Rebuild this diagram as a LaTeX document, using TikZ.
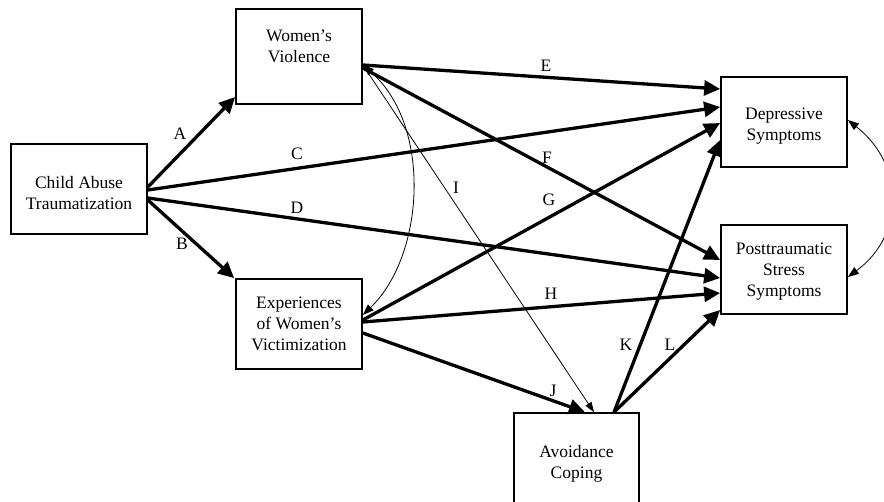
\documentclass[tikz,border=0pt]{standalone}
\usepackage{fontspec}
\setmainfont{Liberation Serif}
\usetikzlibrary{arrows.meta}
\begin{document}
\begin{tikzpicture}[x=1pt,y=-1pt,
  box/.style={draw,line width=1.7pt,inner sep=0pt},
  txt/.style={align=center,inner sep=0pt,font=\fontsize{17.5}{21}\selectfont},
  lab/.style={inner sep=0pt,font=\fontsize{17.5}{21}\selectfont},
  thick arrow/.style={line width=3.3pt,-{Triangle[length=16pt,width=15pt]}},
  thin arrow/.style={line width=0.8pt,-{Triangle[length=10pt,width=7pt]}},
  thin double/.style={line width=0.8pt,{Triangle[length=11pt,width=8pt]}-{Triangle[length=11pt,width=8pt]}}]
\useasboundingbox (0,0) rectangle (884,501);
\clip (0,0) rectangle (884,501);
% boxes
\node[box,minimum width=136pt,minimum height=90pt] (ca) at (79,189) {};
\node[txt] (catext) at (79,193) {Child Abuse\\Traumatization};
\node[box,minimum width=126pt,minimum height=95pt] (wv) at (299,56.5) {};
\node[txt] (wvtext) at (299,46) {Women’s\\Violence};
\node[box,minimum width=126pt,minimum height=90pt] (ex) at (299,324) {};
\node[txt] (extext) at (299,324) {Experiences\\of Women’s\\Victimization};
\node[box,minimum width=126pt,minimum height=90pt] (dp) at (784,122) {};
\node[txt] (dptext) at (784,126) {Depressive\\Symptoms};
\node[box,minimum width=126pt,minimum height=89pt] (pt) at (784,269.5) {};
\node[txt] (pttext) at (784,272) {Posttraumatic\\Stress\\Symptoms};
\node[box,minimum width=125pt,minimum height=97pt] (av) at (576.5,461.5) {};
\node[txt] (avtext) at (576.5,463.5) {Avoidance\\Coping};
% connectors
\draw[thick arrow] ([yshift=2pt]ca.east) -- ([yshift=-40.5pt]wv.west);
\draw[thick arrow] ([yshift=-11pt]ca.east) -- ([xshift=-1pt]ex.north west);
\draw[thick arrow] ([yshift=-1pt]ca.east) -- ([yshift=15pt]dp.west);
\draw[thick arrow] ([yshift=-9pt]ca.east) -- ([yshift=-8.5pt]pt.west);
\draw[thick arrow] ([yshift=-8.5pt]wv.east) -- ([yshift=33pt]dp.west);
\draw[thick arrow] ([yshift=-11.5pt]wv.east) -- ([yshift=9.5pt]pt.west);
\draw[thick arrow] ([yshift=4pt]ex.east) -- ([yshift=-1pt]dp.west);
\draw[thick arrow] ([yshift=2pt]ex.east) -- ([yshift=-23.5pt]pt.west);
\draw[thick arrow] ([yshift=-9pt]ex.east) -- ([xshift=8.5pt]av.north);
\draw[thin arrow] ([yshift=-8.5pt]wv.east) -- ([xshift=17.5pt]av.north);
\draw[thick arrow] ([xshift=37.5pt]av.north) -- ([yshift=-18pt]dp.west);
\draw[thick arrow] ([xshift=37.5pt]av.north) -- ([yshift=-40.5pt]pt.west);
\draw[thin double] ([yshift=-8.5pt]wv.east) .. controls (432,125) and (425,255) .. ([yshift=9pt]ex.east);
\draw[thin double] ([yshift=2pt]dp.east) .. controls (905,165) and (905,235) .. ([yshift=-7.5pt]pt.east);
% labels
\node[lab] (la) at (180,134) {A};
\node[lab] (lb) at (182,244) {B};
\node[lab] (lc) at (297,154) {C};
\node[lab] (ld) at (297,208) {D};
\node[lab] (le) at (546,66) {E};
\node[lab] (lf) at (547,158) {F};
\node[lab] (lg) at (549,200) {G};
\node[lab] (lh) at (551,294) {H};
\node[lab] (li) at (456,188) {I};
\node[lab] (lj) at (553,391) {J};
\node[lab] (lk) at (626,345) {K};
\node[lab] (ll) at (670,345) {L};
\end{tikzpicture}
\end{document}
